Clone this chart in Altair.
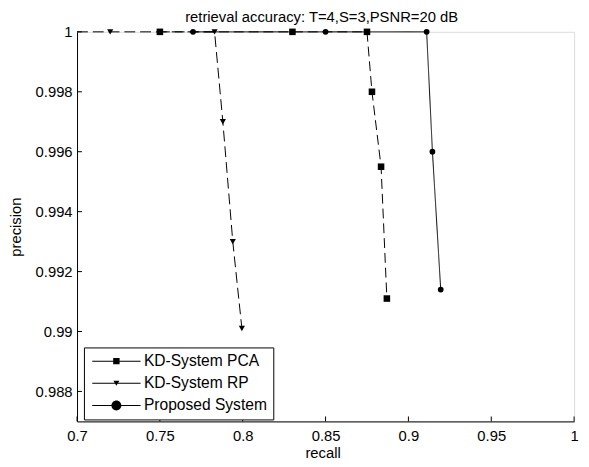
import altair as alt
import pandas as pd

# ---------------- data ----------------
series_names = ["KD-System PCA", "KD-System RP", "Proposed System"]

pca_recall = [0.75, 0.83, 0.875, 0.878, 0.8835, 0.887]
pca_precision = [1.0, 1.0, 1.0, 0.998, 0.9955, 0.9911]

rp_recall = [0.68, 0.72, 0.783, 0.788, 0.794, 0.7995]
rp_precision = [1.0, 1.0, 1.0, 0.997, 0.993, 0.9901]

prop_recall = [0.77, 0.85, 0.911, 0.9145, 0.9195]
prop_precision = [1.0, 1.0, 1.0, 0.996, 0.9914]

x_ticks = [0.7, 0.75, 0.8, 0.85, 0.9, 0.95, 1.0]
y_ticks = [0.988, 0.99, 0.992, 0.994, 0.996, 0.998, 1.0]

title_text = ["retrieval accuracy: T=4,S=3,PSNR=20 dB"]

# ---------------- build table ----------------
rows = []
for name, xs, ys in zip(series_names,
                        [pca_recall, rp_recall, prop_recall],
                        [pca_precision, rp_precision, prop_precision]):
    for i, (xv, yv) in enumerate(zip(xs, ys)):
        rows.append({"series": name, "recall": xv, "precision": yv, "idx": i})
df = pd.DataFrame(rows)
xt = pd.DataFrame({"v": x_ticks})
yt = pd.DataFrame({"v": y_ticks})
tt = pd.DataFrame({"t": title_text})

F = "Liberation Sans"
FS = 15
W, H = 504, 395

xscale = alt.Scale(domain=[0.7, 1.0], clamp=True, nice=False, zero=False)
yscale = alt.Scale(domain=[0.987, 1.0], nice=False, zero=False)

axis_x = alt.Axis(values=x_ticks, format="~g", ticks=False, tickSize=0, grid=False,
                  domainColor="black", domainWidth=1, labelColor="black", labelFont=F,
                  labelFontSize=FS, labelPadding=7, labelFlush=False, labelOverlap=False,
                  titleFont=F, titleFontSize=FS, titleFontWeight="normal", titleColor="black",
                  titleY=37, titleX=249, titleBaseline="alphabetic")
axis_y = alt.Axis(values=y_ticks, format="~g", ticks=False, tickSize=0, grid=False,
                  domainColor="black", domainWidth=1, labelColor="black", labelFont=F,
                  labelFontSize=FS, labelPadding=5, labelFlush=False, labelOverlap=False,
                  titleFont=F, titleFontSize=FS, titleFontWeight="normal", titleColor="black",
                  titleX=-57, titleY=H / 2, titleAngle=270, titleBaseline="alphabetic",
                  titleAlign="center")


def X(field):
    return alt.X(field, type="quantitative", scale=xscale, axis=axis_x, title="recall")


def Y(field):
    return alt.Y(field, type="quantitative", scale=yscale, axis=axis_y, title="precision")


lines = alt.Chart(df).mark_line(color="black", strokeWidth=1).encode(
    x=X("recall"),
    y=Y("precision"),
    detail="series:N",
    order="idx:Q",
    strokeDash=alt.StrokeDash("series:N",
                              scale=alt.Scale(domain=series_names,
                                              range=[[10, 5], [11, 5], [1, 0]]),
                              legend=None),
)

points = alt.Chart(df).transform_filter("datum.recall >= 0.7").mark_point(
    filled=True, color="black", opacity=1, strokeWidth=0
).encode(
    x=X("recall"),
    y=Y("precision"),
    shape=alt.Shape("series:N",
                    scale=alt.Scale(domain=series_names,
                                    range=["square", "triangle-down", "circle"]),
                    legend=None),
    size=alt.Size("series:N",
                  scale=alt.Scale(domain=series_names, range=[44, 34, 100]),
                  legend=None),
)

xticks = alt.Chart(xt).mark_rule(color="black", strokeWidth=1).encode(
    x=X("v"), y=alt.value(H), y2=alt.value(H - 5)
)
yticks = alt.Chart(yt).mark_rule(color="black", strokeWidth=1).encode(
    y=Y("v"), x=alt.value(0), x2=alt.value(5)
)

title_mark = alt.Chart(tt).mark_text(
    font=F, fontSize=FS, color="black", align="center", baseline="alphabetic"
).encode(text="t:N", x=alt.value(W / 2 - 4), y=alt.value(-9.5))

line_path = "M-1.1,-0.1H8.7V0.1H-1.1Z"
legend_paths = [
    line_path + "M3.15,-0.65H4.45V0.65H3.15Z",
    line_path + "M3.2,-0.55H4.4L3.8,0.5Z",
    line_path + "M2.8,0A1,1,0,1,1,4.8,0A1,1,0,1,1,2.8,0Z",
]

legend_layer = alt.Chart(df).transform_filter("false").mark_point(
    filled=True, color="black", opacity=1
).encode(
    x=X("recall"),
    y=Y("precision"),
    shape=alt.Shape("series:N",
                    scale=alt.Scale(domain=series_names, range=legend_paths),
                    legend=alt.Legend(title=None, orient="none", legendX=7, legendY=320,
                                      direction="vertical", fillColor="white",
                                      strokeColor="black", padding=6, cornerRadius=0,
                                      symbolSize=100, symbolStrokeWidth=0,
                                      symbolFillColor="black", symbolOpacity=1,
                                      symbolOffset=0, labelFont=F, labelFontSize=15.8,
                                      labelColor="black", labelOffset=39, rowPadding=5.5,
                                      labelLimit=0)),
)

chart = alt.layer(lines, points, xticks, yticks, title_mark, legend_layer).resolve_scale(
    shape="independent"
).properties(
    width=W,
    height=H,
    autosize=alt.AutoSizeParams(type="none"),
    padding={"left": 70, "top": 21, "right": 7, "bottom": 40},
).configure_view(stroke=None).configure(background="white")

chart.save("out.html", embed_options={"renderer": "svg", "actions": False})
